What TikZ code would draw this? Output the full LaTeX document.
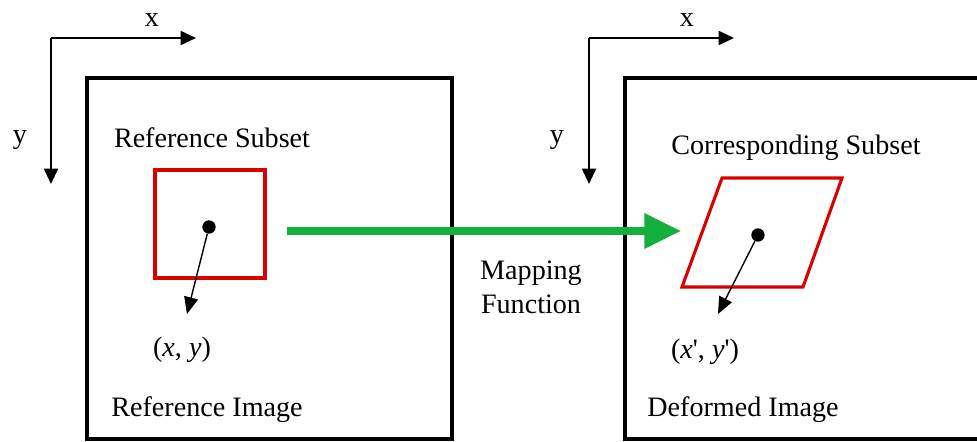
\documentclass[tikz,border=0pt]{standalone}
\usepackage{fontspec}
\setmainfont{Liberation Serif}
\usetikzlibrary{arrows.meta,positioning}
\definecolor{mapgreen}{RGB}{20,175,60}
\tikzset{
  lbl/.style={inner sep=0pt,font=\fontsize{20}{24}\selectfont},
  imgbox/.style={draw,line width=2.9pt},
  axis/.style={line width=1.4pt,-{Triangle[length=11pt,width=10pt]}},
  subset/.style={draw=red!85!black,line width=2.2pt},
  pt/.style={circle,fill,inner sep=0pt,minimum size=9.5pt},
  ptarrow/.style={line width=1pt,-{Triangle[length=12pt,width=10pt]}},
  maparrow/.style={mapgreen,line width=5pt,-{Triangle[length=26pt,width=24pt]}}
}
\begin{document}
\begin{tikzpicture}[x=.025cm,y=-.025cm]
\useasboundingbox (0,0) rectangle (977,441);
% reference image
\draw[imgbox] (87,439) rectangle (452,78);
\coordinate (o1) at (51,38);\coordinate (x1) at (196,38);\coordinate (y1) at (51,184);
\draw[axis] (o1)--(x1);\draw[axis] (o1)--(y1);
\node[lbl] (xl1) at (152,20) {x};\node[lbl] (yl1) at (20,140) {y};
\node[lbl] (refsub) at (212,138) {Reference Subset};
\draw[subset] (155,170) rectangle (265,278);
\node[pt] (p1) at (209,227) {};\coordinate (q1) at (187,314);
\draw[ptarrow] (p1)--(q1);
\node[lbl] (xy) at (182,350) {(\textit{x}, \textit{y})};
\node[lbl] (refimg) at (207,410) {Reference Image};
% deformed image
\draw[imgbox] (990,439)--(625,439)--(625,78)--(990,78);
\coordinate (o2) at (589,38);\coordinate (x2) at (734,38);\coordinate (y2) at (589,184);
\draw[axis] (o2)--(x2);\draw[axis] (o2)--(y2);
\node[lbl] (xl2) at (687,20) {x};\node[lbl] (yl2) at (557,140) {y};
\node[lbl] (corsub) at (796,148) {Corresponding Subset};
\draw[subset] (722,178)--(842,178)--(803,287)--(682,287)--cycle;
\node[pt] (p2) at (758,235) {};\coordinate (q2) at (718,314);
\draw[ptarrow] (p2)--(q2);
\node[lbl] (xyd) at (705,352) {(\textit{x}\textquotesingle, \textit{y}\textquotesingle)};
\node[lbl] (defimg) at (743,410) {Deformed Image};
% mapping
\coordinate (m0) at (287,231);\coordinate (m1) at (681,231);
\draw[maparrow] (m0)--(m1);
\node[lbl,align=center] (map) at (531,287) {Mapping\\Function};
\end{tikzpicture}
\end{document}
